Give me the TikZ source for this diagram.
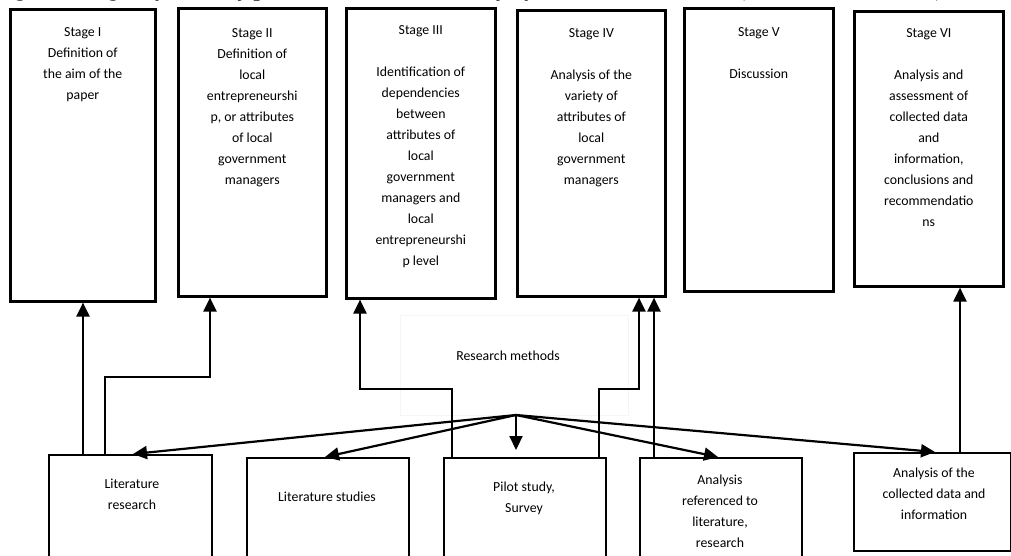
\documentclass[tikz,border=0pt]{standalone}
\usepackage{fontspec}
\setmainfont{Carlito}
\newfontfamily\capfont{Liberation Serif}
\usetikzlibrary{arrows.meta,calc}
\begin{document}
\begin{tikzpicture}[x=1pt,y=-1pt,
  stagebox/.style={draw, line width=2.6pt, anchor=north west, inner sep=0pt, minimum width=#1},
  methbox/.style={draw, line width=2.2pt, anchor=north west, inner sep=0pt, minimum width=#1},
  txt/.style={font=\fontsize{13.8}{21}\selectfont, align=center, inner sep=0pt, anchor=north},
  conn/.style={line width=2.2pt, -{Triangle[length=14pt,width=13pt]}},
  faint/.style={draw=black!4, line width=0.8pt, anchor=north west, inner sep=0pt},
]
\useasboundingbox (0,0) rectangle (1011,556);
\clip (0,0) rectangle (1011,556);

% caption (cut off at the top of the picture)
\node[font=\capfont\bfseries\itshape\fontsize{22}{22}\selectfont, anchor=base west, inner sep=0pt] (cap) at (-4,-3)
  {Figure 1 Stages of the study process based on CSR study of Quantitative research (Fedorová et al., 2019)};

% stage boxes
\node[stagebox=145pt, minimum height=292pt] (s1) at (9,8) {};
\node[stagebox=148pt, minimum height=288pt] (s2) at (177,7) {};
\node[stagebox=149pt, minimum height=290pt] (s3) at (345,7) {};
\node[stagebox=148pt, minimum height=286pt] (s4) at (516,9) {};
\node[stagebox=149pt, minimum height=283pt] (s5) at (683,7) {};
\node[stagebox=149pt, minimum height=275pt] (s6) at (853,10) {};

\node[txt] (t1) at ($(s1.north)+(0,19)$) {Stage I\\Definition of\\the aim of the\\paper};
\node[txt] (t2) at ($(s2.north)+(0,21)$) {Stage II\\Definition of\\local\\entrepreneurshi\\p, or attributes\\of local\\government\\managers};
\node[txt] (t3) at ($(s3.north)+(0,18)$) {Stage III\\\mbox{}\\Identification of\\dependencies\\between\\attributes of\\local\\government\\managers and\\local\\entrepreneurshi\\p level};
\node[txt] (t4) at ($(s4.north)+(0,19)$) {Stage IV\\\mbox{}\\Analysis of the\\variety of\\attributes of\\local\\government\\managers};
\node[txt] (t5) at ($(s5.north)+(0,20)$) {Stage V\\\mbox{}\\Discussion};
\node[txt] (t6) at ($(s6.north)+(0,18)$) {Stage VI\\\mbox{}\\Analysis and\\assessment of\\collected data\\and\\information,\\conclusions and\\recommendatio\\ns};

% research methods area
\node[faint, minimum width=228pt, minimum height=100pt] (rm) at (400,315) {};
\node[txt, anchor=center] (rmt) at (508,356) {Research methods};
\coordinate (hub) at (516,415);

% method boxes
\node[methbox=163pt, minimum height=130pt] (m1) at (48,454) {};
\node[methbox=162pt, minimum height=130pt] (m2) at (246,457) {};
\node[methbox=162pt, minimum height=130pt] (m3) at (443,457) {};
\node[methbox=162pt, minimum height=130pt] (m4) at (639,457) {};
\node[methbox=157pt, minimum height=98pt] (m5) at (853,452) {};

\node[txt, anchor=center] (u1) at (132,494) {Literature\\research};
\node[txt, anchor=center] (u2) at (327,497) {Literature studies};
\node[txt, anchor=center] (u3) at (524,498) {Pilot study,\\Survey};
\node[txt, anchor=center] (u4) at (720,511) {Analysis\\referenced to\\literature,\\research};
\node[txt, anchor=center] (u5) at (934,494) {Analysis of the\\collected data and\\information};

% fan-out from research methods
\draw[conn] (hub) -- ([xshift=85pt]m1.north west);
\draw[conn] (hub) -- ([xshift=79pt]m2.north west);
\draw[conn] (hub) -- ($(hub |- m3.north)+(0,-7)$);
\draw[conn] (hub) -- ([xshift=79pt]m4.north west);
\draw[conn] (hub) -- ([xshift=82pt]m5.north west);

% upward connectors to the stages
\draw[conn] ([xshift=35pt]m1.north west) coordinate (a1) -- (a1 |- s1.south);
\draw[conn] ([xshift=57pt]m1.north west) -- ++(0,-77) -| (210,0 |- s2.south);
\draw[conn] ([xshift=9pt]m3.north west) -- ++(0,-68) -| (360,0 |- s3.south);
\draw[conn] ([xshift=156pt]m3.north west) -- ++(0,-68) -| (639,0 |- s4.south);
\draw[conn] ([xshift=15pt]m4.north west) coordinate (a5) -- (a5 |- s4.south);
\draw[conn] ([xshift=107pt]m5.north west) coordinate (a6) -- (a6 |- s6.south);
\end{tikzpicture}
\end{document}
